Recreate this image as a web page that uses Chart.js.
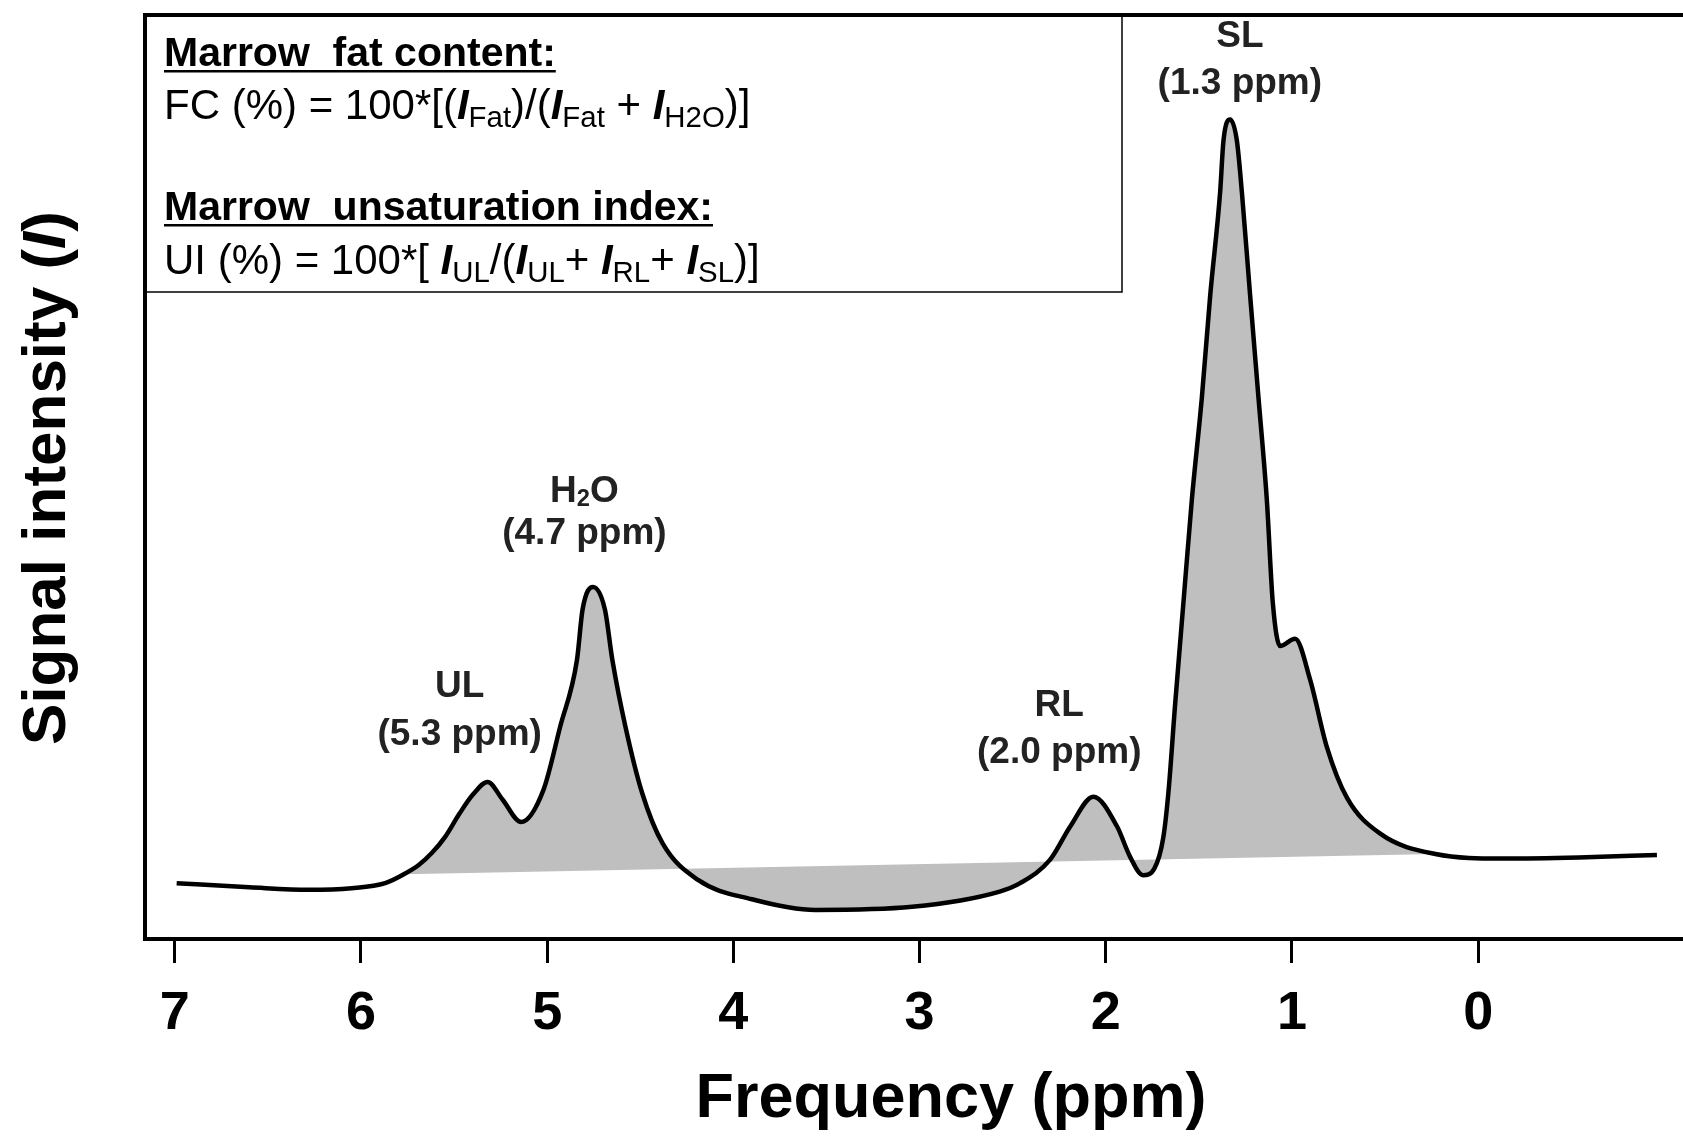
<!DOCTYPE html>
<html>
<head>
<meta charset="utf-8">
<script src="https://cdn.jsdelivr.net/npm/chart.js@4.4.1/dist/chart.umd.min.js"></script>
<style>
  html, body { margin: 0; padding: 0; background: #fff; }
  #wrap { width: 1683px; height: 1140px; }
</style>
</head>
<body>
<div id="wrap"><canvas id="myChart" width="1683" height="1140"></canvas></div>
<script>
// spectrum (ppm, signal in arbitrary units 0-100)
var ppm = [6.99, 6.60, 6.28, 6.05, 5.87, 5.77, 5.69, 5.62, 5.55, 5.47, 5.40, 5.32, 5.24, 5.14, 5.02, 4.93, 4.84, 4.81, 4.754,
           4.69, 4.65, 4.58, 4.49, 4.38, 4.19, 3.90, 3.56, 3.04, 2.57, 2.46, 2.30, 2.19, 2.067, 1.94, 1.87, 1.80, 1.74,
           1.691, 1.663, 1.628, 1.583, 1.538, 1.484, 1.439, 1.386, 1.368, 1.332, 1.296, 1.269, 1.225, 1.180, 1.135,
           1.103, 1.064, 0.983, 0.903, 0.813, 0.705, 0.526, 0.23, -0.13, -0.54, -0.96];
var intensity = [6.04, 5.6, 5.32, 5.5, 6.04, 7.0, 8.0, 9.3, 11.0, 13.6, 15.6, 17.0, 15.1, 12.66, 16.14, 23.0, 30.2, 35.66, 38.1,
           35.66, 30.2, 23.0, 15.8, 10.34, 6.39, 4.30, 3.14, 3.48, 5.13, 6.04, 8.56, 12.2, 15.4, 12.2, 8.92, 6.9, 7.6,
           11.0, 16.0, 25.3, 36.4, 47.5, 58.6, 69.7, 80.8, 86.4, 88.7, 86.4, 80.8, 69.7, 58.6, 47.5,
           36.4, 31.7, 32.5, 28.1, 20.8, 15.3, 11.4, 9.2, 8.71, 8.83, 9.1];

// straight baseline used for the grey integration area
var baselinePpm = [5.77, 0.23];
var baselineIntensity = [7.0, 9.2];

var tickValues = [7, 6, 5, 4, 3, 2, 1, 0];

var peakLabels = [
    { name: 'SL', sub: '', shift: '(1.3 ppm)', x: 1.28, y: 97.6, y2: 92.6 },
    { name: 'H', sub: '2', tail: 'O', shift: '(4.7 ppm)', x: 4.80, y: 48.4, y2: 43.8 },
    { name: 'UL', sub: '', shift: '(5.3 ppm)', x: 5.47, y: 27.3, y2: 22.1 },
    { name: 'RL', sub: '', shift: '(2.0 ppm)', x: 2.25, y: 25.2, y2: 20.1 }
];

var FONT = '"Liberation Sans", Arial, sans-serif';

var curve = ppm.map(function (p, i) { return { x: p, y: intensity[i] }; });
var curveInRange = curve.filter(function (p) { return p.x <= baselinePpm[0] && p.x >= baselinePpm[1]; });
var baseline = baselinePpm.map(function (p, i) { return { x: p, y: baselineIntensity[i] }; });

function drawRich(ctx, x, y, parts, size, subScale) {
    subScale = subScale || 0.64;
    parts.forEach(function (p) {
        var s = p.sub ? size * subScale : size;
        ctx.font = (p.i ? 'italic ' : '') + (p.b ? 'bold ' : '') + s + 'px ' + FONT;
        ctx.fillText(p.t, x, p.sub ? y + size * 0.2 : y);
        x += ctx.measureText(p.t).width;
    });
    return x;
}

var decor = {
    id: 'decor',
    afterDraw: function (chart) {
        var ctx = chart.ctx;
        var xs = chart.scales.x, ys = chart.scales.y;
        var area = chart.chartArea;
        ctx.save();
        ctx.fillStyle = '#000';
        ctx.strokeStyle = '#000';

        // top frame line
        ctx.lineWidth = 4;
        ctx.beginPath();
        ctx.moveTo(area.left - 2, area.top);
        ctx.lineTo(area.right, area.top);
        ctx.stroke();

        // formula box
        ctx.lineWidth = 1.5;
        ctx.strokeRect(area.left, area.top, 977, 277);
        ctx.textBaseline = 'alphabetic';
        ctx.textAlign = 'left';
        var tx = 164;
        ctx.font = 'bold 41px ' + FONT;
        var w = ctx.measureText('Marrow  fat content:').width;
        ctx.fillText('Marrow  fat content:', tx, 66);
        ctx.fillRect(tx, 70, w, 2.5);
        drawRich(ctx, tx, 119, [
            { t: 'FC (%) = 100*[(' }, { t: 'I', b: 1, i: 1 }, { t: 'Fat', sub: 1 }, { t: ')/(' },
            { t: 'I', b: 1, i: 1 }, { t: 'Fat', sub: 1 }, { t: ' + ' }, { t: 'I', b: 1, i: 1 },
            { t: 'H2O', sub: 1 }, { t: ')]' }
        ], 42, 0.7);
        ctx.font = 'bold 41px ' + FONT;
        w = ctx.measureText('Marrow  unsaturation index:').width;
        ctx.fillText('Marrow  unsaturation index:', tx, 220);
        ctx.fillRect(tx, 224, w, 2.5);
        drawRich(ctx, tx, 274, [
            { t: 'UI (%) = 100*[ ' }, { t: 'I', b: 1, i: 1 }, { t: 'UL', sub: 1 }, { t: '/(' },
            { t: 'I', b: 1, i: 1 }, { t: 'UL', sub: 1 }, { t: '+ ' }, { t: 'I', b: 1, i: 1 },
            { t: 'RL', sub: 1 }, { t: '+ ' }, { t: 'I', b: 1, i: 1 }, { t: 'SL', sub: 1 }, { t: ')]' }
        ], 42, 0.7);

        // peak labels
        ctx.fillStyle = '#222';
        ctx.textBaseline = 'middle';
        peakLabels.forEach(function (l) {
            var px = xs.getPixelForValue(l.x);
            var parts = [{ t: l.name, b: 1 }];
            if (l.sub) parts.push({ t: l.sub, b: 1, sub: 1 });
            if (l.tail) parts.push({ t: l.tail, b: 1 });
            var tw = 0;
            parts.forEach(function (p) {
                ctx.font = 'bold ' + (p.sub ? 37 * 0.64 : 37) + 'px ' + FONT;
                tw += ctx.measureText(p.t).width;
            });
            ctx.textAlign = 'left';
            drawRich(ctx, px - tw / 2, ys.getPixelForValue(l.y), parts, 37);
            ctx.textAlign = 'center';
            ctx.font = 'bold 37px ' + FONT;
            ctx.fillText(l.shift, px, ys.getPixelForValue(l.y2));
        });

        // axis titles
        ctx.fillStyle = '#000';
        ctx.textAlign = 'center';
        ctx.font = 'bold 63px ' + FONT;
        ctx.fillText('Frequency (ppm)', 951, 1100);

        ctx.translate(48, 478);
        ctx.rotate(-Math.PI / 2);
        ctx.textAlign = 'left';
        var a = 'Signal intensity (', b = 'I', c = ')';
        ctx.font = 'bold 62px ' + FONT;
        var wa = ctx.measureText(a).width, wc = ctx.measureText(c).width;
        ctx.font = 'italic bold 62px ' + FONT;
        var wb = ctx.measureText(b).width;
        var sx = -(wa + wb + wc) / 2;
        drawRich(ctx, sx, 0, [{ t: a, b: 1 }, { t: b, b: 1, i: 1 }, { t: c, b: 1 }], 62);
        ctx.restore();
    }
};

const config = {
    type: 'line',
    data: {
        datasets: [{
            label: 'spectrum',
            data: curve,
            borderColor: '#000',
            borderWidth: 4.5,
            pointRadius: 0,
            cubicInterpolationMode: 'monotone',
            fill: false,
            order: 0
        }, {
            label: 'area',
            data: curveInRange,
            borderWidth: 0,
            borderColor: 'rgba(0,0,0,0)',
            pointRadius: 0,
            cubicInterpolationMode: 'monotone',
            backgroundColor: '#bfbfbf',
            fill: { target: 2, above: '#bfbfbf', below: '#bfbfbf' },
            order: 1
        }, {
            label: 'baseline',
            data: baseline,
            borderWidth: 0,
            borderColor: 'rgba(0,0,0,0)',
            pointRadius: 0,
            tension: 0,
            fill: false,
            order: 2
        }]
    },
    options: {
        responsive: false,
        animation: false,
        layout: { padding: { top: 15, left: 0, right: 0, bottom: 0 } },
        plugins: { legend: { display: false }, tooltip: { enabled: false } },
        scales: {
            x: {
                type: 'linear',
                reverse: true,
                min: -1.10,
                max: 7.16,
                afterBuildTicks: function (scale) {
                    scale.ticks = tickValues.map(function (v) { return { value: v }; });
                },
                afterFit: function (scale) { scale.height = 201; },
                ticks: {
                    color: '#000',
                    padding: 19,
                    font: { family: FONT, size: 54, weight: 'bold' },
                    maxRotation: 0,
                    autoSkip: false
                },
                grid: { display: true, drawOnChartArea: false, drawTicks: true, tickLength: 24, tickWidth: 3, tickColor: '#000' },
                border: { display: true, color: '#000', width: 4 }
            },
            y: {
                min: 0,
                max: 100,
                afterFit: function (scale) { scale.width = 145; },
                ticks: { display: false },
                grid: { display: false },
                border: { display: true, color: '#000', width: 4 }
            }
        }
    },
    plugins: [decor]
};

const myChart = new Chart(document.getElementById('myChart'), config);
</script>
</body>
</html>
